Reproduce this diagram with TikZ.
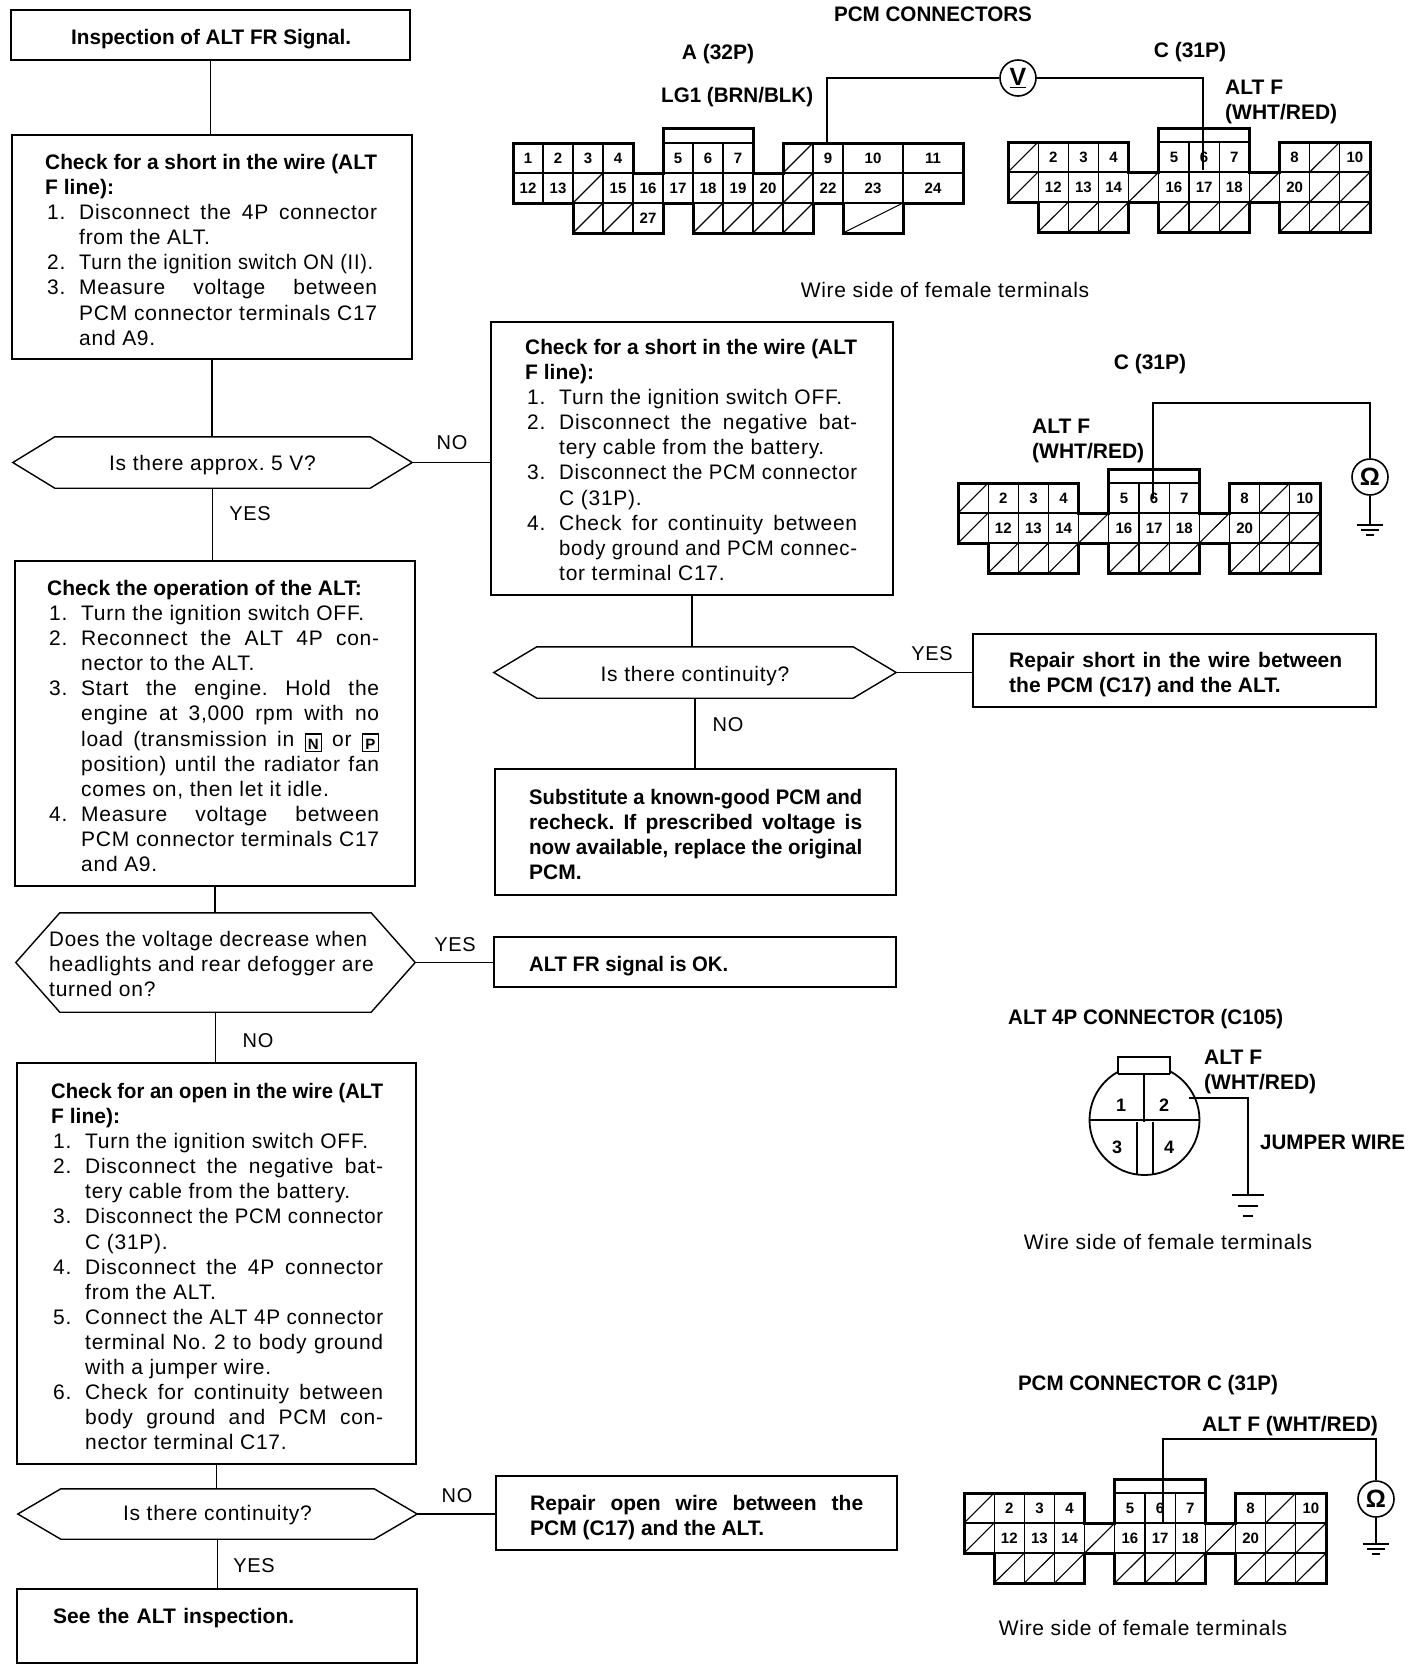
\documentclass[tikz,border=0pt]{standalone}
\usepackage{fontspec}
\usepackage{graphicx}
\setmainfont{Liberation Sans}[LetterSpace=3.5,BoldFeatures={LetterSpace=0}]
\frenchspacing
\newsavebox\jb
\newcommand\J[2]{\sbox\jb{#2}\ifdim\wd\jb>#1\resizebox{#1}{\height}{\usebox\jb}\else\makebox[#1][s]{#2}\fi}
\newcommand\rg{\fontsize{21}{25.1}\selectfont\frenchspacing}
\newcommand\bd{\fontsize{21}{25.1}\selectfont\bfseries\frenchspacing}
\newcommand\It[2]{\makebox[34pt][l]{\hspace{2pt}#1}#2}
\newcommand\Ct[1]{\hspace*{34pt}#1}
\newcommand\JJ[1]{\J{298pt}{#1}}
\newcommand\JH[1]{\J{332pt}{\bfseries #1}}
\newcommand\Key[1]{\smash{\raisebox{-3pt}{\fboxsep=0pt\fboxrule=1.2pt\fbox{\makebox[15pt]{\rule[-1.5pt]{0pt}{16pt}\fontsize{15}{15}\selectfont\bfseries #1}}}}}
\tikzset{
  boxn/.style={draw,line width=1.4pt,inner sep=0pt},
  hexn/.style={inner sep=0pt,font=\rg},
  line/.style={line width=1.4pt},
  txt/.style={inner sep=0pt,anchor=north west,align=left},
  lbl/.style={inner sep=0pt,font=\rg},
  tag/.style={inner sep=0pt,font=\fontsize{20}{25}\selectfont},
  blbl/.style={inner sep=0pt,font=\bd},
  cellnum/.style={inner sep=0pt,font=\fontsize{15}{15}\selectfont\bfseries},
  pinnum/.style={inner sep=0pt,font=\fontsize{18}{18}\selectfont\bfseries},
  cellline/.style={line width=1.1pt},
  outl/.style={line width=3pt,line join=miter},
  meter/.style={draw,circle,line width=1.6pt,minimum size=36pt,inner sep=0pt,fill=white,font=\fontsize{25}{25}\selectfont\bfseries},
}
\newcommand\bx[5]{\node[boxn,minimum width={(#4)-(#2)},minimum height={(#5)-(#3)}] (#1) at ({((#2)+(#4))/2},{((#3)+(#5))/2}) {};}
\newcommand\hexa[2]{\draw[line] (#1.west) -- ([xshift=#2]#1.north west) -- ([xshift=-#2]#1.north east) -- (#1.east) -- ([xshift=-#2]#1.south east) -- ([xshift=#2]#1.south west) -- cycle;}
\newcommand\tx[5]{\node[txt,font=#4] (#1) at (#2,#3-8) {\rule{0pt}{15pt}#5};}
\newcommand\gnd[1]{%
  \draw[line] ([xshift=-13pt]#1) -- ([xshift=13pt]#1);
  \draw[line] ([xshift=-9pt,yshift=-5pt]#1) -- ([xshift=9pt,yshift=-5pt]#1);
  \draw[line] ([xshift=-4pt,yshift=-10pt]#1) -- ([xshift=4pt,yshift=-10pt]#1);}
\newcommand\ConnC[3]{%
  \begin{scope}[shift={(#2,#3)},x=30.17pt,y=-30pt]
    \foreach \c/\r/\t in {1/0/2,2/0/3,3/0/4,5/0/5,6/0/6,7/0/7,9/0/8,11/0/10,1/1/12,2/1/13,3/1/14,5/1/16,6/1/17,7/1/18,9/1/20}{
      \draw[cellline] (\c,\r) rectangle ++(1,1);
      \node[cellnum] (#1\t) at (\c+.5,\r+.5) {\t};}
    \foreach \c/\r in {0/0,10/0,0/1,4/1,8/1,10/1,11/1,1/2,2/2,3/2,5/2,6/2,7/2,9/2,10/2,11/2}{
      \draw[cellline] (\c,\r) rectangle ++(1,1);
      \draw[cellline] (\c,\r+1) -- ++(1,-1);}
    \draw[outl] (0,0) -- (4,0) -- (4,1) -- (5,1) -- (5,-.45) -- (8,-.45) -- (8,1) -- (9,1) -- (9,0) -- (12,0) -- (12,3) -- (9,3) -- (9,2) -- (8,2) -- (8,3) -- (5,3) -- (5,2) -- (4,2) -- (4,3) -- (1,3) -- (1,2) -- (0,2) -- cycle;
  \end{scope}}
\begin{document}
\begin{tikzpicture}[x=1pt,y=-1pt]
\useasboundingbox (0,0) rectangle (1424,1670);
% boxes
\bx{b1}{11}{10}{410}{60}
\bx{b2}{12}{135}{412}{359}
\bx{b3}{15}{561}{415}{886}
\bx{b4}{17}{1063}{416}{1464}
\bx{b5}{17}{1589}{417}{1663}
\bx{bno}{491}{322}{893}{595}
\bx{bshort}{973}{634}{1376}{707}
\bx{bsub}{495}{769}{896}{895}
\bx{bok}{494}{937}{896}{987}
\bx{bopen}{496}{1476}{897}{1550}
% hexagons
\node[hexn,minimum width=399pt,minimum height=51pt,text height=15pt,text depth=0pt] (h1) at (212.5,462.5) {Is there approx. 5 V?};
\hexa{h1}{42}
\node[hexn,minimum width=399pt,minimum height=99pt] (h2) at (215.5,962.5) {};
\hexa{h2}{44}
\node[hexn,minimum width=399pt,minimum height=50pt,text height=13pt,text depth=0pt] (h3) at (217.5,1514) {Is there continuity?};
\hexa{h3}{43}
\node[hexn,minimum width=402pt,minimum height=51pt,text height=17.5pt,text depth=0pt] (hm) at (695,672.5) {Is there continuity?};
\hexa{hm}{43}
% flow connectors
\draw[line] (b1.south) -- (b1.south |- b2.north);
\draw[line] (b2.south) -- (b2.south |- h1.north);
\draw[line] (h1.south) -- (h1.south |- b3.north);
\draw[line] (b3.south) -- (b3.south |- h2.north);
\draw[line] (h2.south) -- (h2.south |- b4.north);
\draw[line] (b4.south) -- (b4.south |- h3.north);
\draw[line] (h3.south) -- (h3.south |- b5.north);
\draw[line] (h1.east) -- (h1.east -| bno.west);
\draw[line] (h2.east) -- (h2.east -| bok.west);
\draw[line] (h3.east) -- (h3.east -| bopen.west);
\draw[line] (bno.south) -- (bno.south |- hm.north);
\draw[line] (hm.south) -- (hm.south |- bsub.north);
\draw[line] (hm.east) -- (hm.east -| bshort.west);
% labels
\node[tag] (no1) at (452,443) {NO};
\node[tag] (yes1) at (250,514) {YES};
\node[tag] (yes2) at (932,654) {YES};
\node[tag] (no2) at (728,725) {NO};
\node[tag] (yes3) at (455,945) {YES};
\node[tag] (no3) at (258,1041) {NO};
\node[tag] (no4) at (457,1496) {NO};
\node[tag] (yes4) at (254,1566) {YES};
% box texts
\tx{t1}{71}{37}{\bd}{\J{280pt}{Inspection of ALT FR Signal.}}
\tx{t2}{45}{162}{\rg}{\JH{Check for a short in the wire (ALT}\\
{\bfseries F line):}\\
\It{1.}{\JJ{Disconnect the 4P connector}}\\
\Ct{from the ALT.}\\
\It{2.}{\J{294pt}{Turn the ignition switch ON (II).}}\\
\It{3.}{\JJ{Measure voltage between}}\\
\Ct{\JJ{PCM connector terminals C17}}\\
\Ct{and A9.}}
\tx{t3}{525}{347}{\rg}{\JH{Check for a short in the wire (ALT}\\
{\bfseries F line):}\\
\It{1.}{Turn the ignition switch OFF.}\\
\It{2.}{\JJ{Disconnect the negative bat-}}\\
\Ct{tery cable from the battery.}\\
\It{3.}{\JJ{Disconnect the PCM connector}}\\
\Ct{C (31P).}\\
\It{4.}{\JJ{Check for continuity between}}\\
\Ct{\JJ{body ground and PCM connec-}}\\
\Ct{tor terminal C17.}}
\tx{t4}{47}{588}{\rg}{{\bfseries Check the operation of the ALT:}\\
\It{1.}{Turn the ignition switch OFF.}\\
\It{2.}{\JJ{Reconnect the ALT 4P con-}}\\
\Ct{nector to the ALT.}\\
\It{3.}{\JJ{Start the engine. Hold the}}\\
\Ct{\JJ{engine at 3,000 rpm with no}}\\
\Ct{\JJ{load (transmission in \Key{N} or \Key{P}}}\\
\Ct{\JJ{position) until the radiator fan}}\\
\Ct{comes on, then let it idle.}\\
\It{4.}{\JJ{Measure voltage between}}\\
\Ct{\JJ{PCM connector terminals C17}}\\
\Ct{and A9.}}
\tx{t5}{49}{939}{\rg}{\J{318pt}{Does the voltage decrease when}\\
headlights and rear defogger are\\
turned on?}
\tx{t6}{51}{1091}{\rg}{\JH{Check for an open in the wire (ALT}\\
{\bfseries F line):}\\
\It{1.}{Turn the ignition switch OFF.}\\
\It{2.}{\JJ{Disconnect the negative bat-}}\\
\Ct{tery cable from the battery.}\\
\It{3.}{\JJ{Disconnect the PCM connector}}\\
\Ct{C (31P).}\\
\It{4.}{\JJ{Disconnect the 4P connector}}\\
\Ct{from the ALT.}\\
\It{5.}{\JJ{Connect the ALT 4P connector}}\\
\Ct{\JJ{terminal No. 2 to body ground}}\\
\Ct{with a jumper wire.}\\
\It{6.}{\JJ{Check for continuity between}}\\
\Ct{\JJ{body ground and PCM con-}}\\
\Ct{nector terminal C17.}}
\tx{t7}{53}{1616}{\bd}{\J{241pt}{See the ALT inspection.}}
\tx{t8}{1009}{660}{\bd}{\J{333pt}{Repair short in the wire between}\\
the PCM (C17) and the ALT.}
\tx{t9}{529}{797}{\bd}{\J{333pt}{Substitute a known-good PCM and}\\
\J{333pt}{recheck. If prescribed voltage is}\\
\J{333pt}{now available, replace the original}\\
PCM.}
\tx{t10}{529}{964}{\bd}{\J{199pt}{ALT FR signal is OK.}}
\tx{t11}{530}{1503}{\bd}{\J{333pt}{Repair open wire between the}\\
PCM (C17) and the ALT.}
% top diagrams text
\node[blbl] (hd) at (933,14) {\J{198pt}{PCM CONNECTORS}};
\node[blbl] (la32) at (718,54) {A (32P)};
\tx{lg}{661}{95}{\bd}{\J{152pt}{LG1 (BRN/BLK)}}
\node[blbl] (lc31) at (1190,52) {C (31P)};
\tx{lalt}{1225}{87}{\bd}{ALT F\\(WHT/RED)}
\node[lbl] (w1) at (945,290) {Wire side of female terminals};
% connector A
\begin{scope}[shift={(513,143)},x=30pt,y=-30pt]
  \foreach \c/\r/\t in {0/0/1,1/0/2,2/0/3,3/0/4,5/0/5,6/0/6,7/0/7,10/0/9,0/1/12,1/1/13,3/1/15,4/1/16,5/1/17,6/1/18,7/1/19,8/1/20,10/1/22,4/2/27}{
    \draw[cellline] (\c,\r) rectangle ++(1,1);
    \node[cellnum] (A\t) at (\c+.5,\r+.5) {\t};}
  \foreach \c/\r in {9/0,2/1,9/1,2/2,3/2,6/2,7/2,8/2,9/2}{
    \draw[cellline] (\c,\r) rectangle ++(1,1);
    \draw[cellline] (\c,\r+1) -- ++(1,-1);}
  \foreach \c/\r/\t in {11/0/10,13/0/11,11/1/23,13/1/24}{
    \draw[cellline] (\c,\r) rectangle ++(2,1);
    \node[cellnum] (A\t) at (\c+1,\r+.5) {\t};}
  \draw[cellline] (11,2) rectangle ++(2,1);
  \draw[cellline] (11,3) -- ++(2,-1);
  \draw[outl] (0,0) -- (4,0) -- (4,1) -- (5,1) -- (5,-.47) -- (8,-.47) -- (8,1) -- (9,1) -- (9,0) -- (15,0) -- (15,2) -- (13,2) -- (13,3) -- (11,3) -- (11,2) -- (10,2) -- (10,3) -- (6,3) -- (6,2) -- (5,2) -- (5,3) -- (2,3) -- (2,2) -- (0,2) -- cycle;
\end{scope}
% connector C (top)
\ConnC{Ca}{1008}{142}
\node[meter] (mv) at (1018,78) {\underline{V}};
\coordinate (a9top) at (827,143);
\coordinate (c17top) at (1203,170);
\draw[line] (a9top) |- (mv.west);
\draw[line] (c17top) |- (mv.east);
% connector C (middle)
\node[blbl] (lc2) at (1150,364) {C (31P)};
\tx{lalt2}{1032}{426}{\bd}{ALT F\\(WHT/RED)}
\ConnC{Cb}{958}{483}
\node[meter] (mo1) at (1370,477) {Ω};
\coordinate (c6b) at (1153,499);
\coordinate (k1) at (1153,403);
\coordinate (g1) at (1370,525);
\draw[line] (c6b) -- (k1) -| (mo1.north);
\draw[line] (mo1.south) -- (g1);
\gnd{g1}
% ALT 4P
\tx{ttl4}{1008}{1017}{\bd}{\J{275pt}{ALT 4P CONNECTOR (C105)}}
\tx{lalt3}{1204}{1057}{\bd}{ALT F\\(WHT/RED)}
\tx{ljw}{1260}{1142}{\bd}{\J{145pt}{JUMPER WIRE}}
\node[lbl] (w2) at (1168,1242) {Wire side of female terminals};
\node[draw,circle,line width=1.8pt,minimum size=110pt,inner sep=0pt] (alt) at (1144.5,1120) {};
\draw[line width=1.8pt,fill=white] (1118,1074) -- (1118,1057) -- (1170,1057) -- (1170,1074);
\draw[cellline] (1118,1074) -- (1170,1074);
\draw[cellline] (1144,1074) -- (1144,1122);
\draw[cellline] (alt.west) -- (alt.east);
\draw[cellline] (1137,1122) -- (1137,1174);
\draw[cellline] (1153,1122) -- (1153,1174);
\node[pinnum] (p1) at (1121,1105) {1};
\node[pinnum] (p2) at (1164,1105) {2};
\node[pinnum] (p3) at (1117,1147) {3};
\node[pinnum] (p4) at (1169,1147) {4};
\coordinate (jw) at (1189,1098);
\coordinate (g2) at (1248,1195);
\draw[line] (jw) -| (g2);
\draw[line] ([xshift=-16pt]g2) -- ([xshift=16pt]g2);
\draw[line] ([xshift=-10pt,yshift=-11pt]g2) -- ([xshift=10pt,yshift=-11pt]g2);
\draw[line] ([xshift=-5pt,yshift=-21pt]g2) -- ([xshift=5pt,yshift=-21pt]g2);
% connector C (bottom)
\node[blbl] (ttl5) at (1148,1385) {\J{260pt}{PCM CONNECTOR C (31P)}};
\tx{lalt4}{1202}{1424}{\bd}{ALT F (WHT/RED)}
\ConnC{Cc}{964}{1493}
\node[meter] (mo2) at (1376,1499) {Ω};
\coordinate (c6c) at (1163,1523);
\coordinate (k2) at (1163,1439);
\coordinate (g3) at (1376,1544);
\draw[line] (c6c) -- (k2) -| (mo2.north);
\draw[line] (mo2.south) -- (g3);
\gnd{g3}
\node[lbl] (w3) at (1143,1628) {Wire side of female terminals};
\end{tikzpicture}
\end{document}
